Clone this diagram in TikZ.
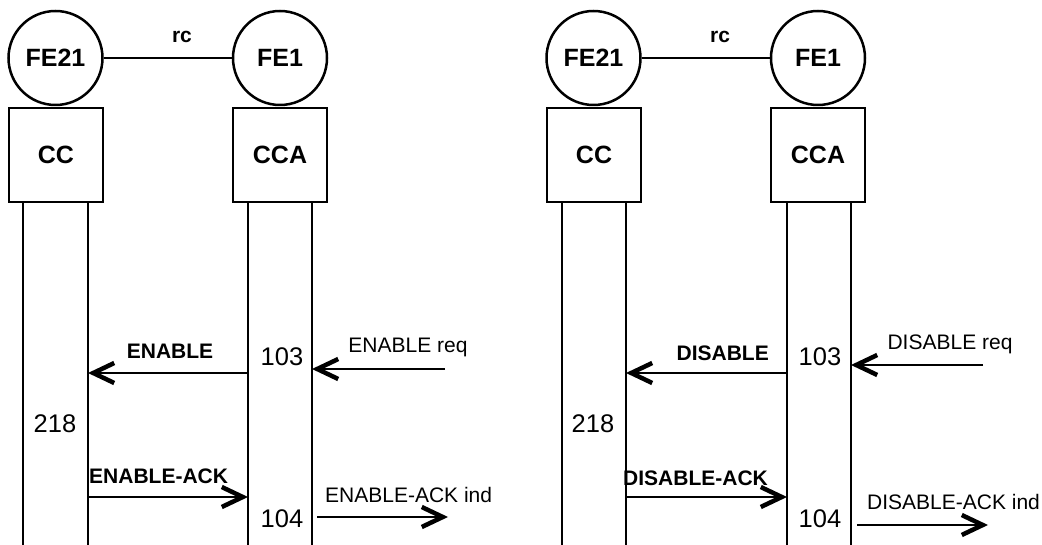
\documentclass[tikz,border=0pt]{standalone}
\usepackage{fontspec}
\setmainfont{Liberation Sans}
\usetikzlibrary{arrows.meta}
\begin{document}
\begin{tikzpicture}[x=1pt,y=-1pt,
  fe/.style={circle,draw,line width=2.5pt,minimum size=94pt,inner sep=0pt,font=\fontsize{25}{30}\selectfont\bfseries},
  blk/.style={rectangle,draw,line width=2.5pt,minimum width=94pt,minimum height=94pt,inner sep=0pt,font=\fontsize{25}{30}\selectfont\bfseries},
  life/.style={line width=2.5pt},
  link/.style={line width=2.5pt},
  msg/.style={line width=2.5pt,-{Straight Barb[length=21pt,width=20pt,line width=4.5pt]}},
  blbl/.style={font=\fontsize{21}{25}\selectfont\bfseries,inner sep=0pt},
  lbl/.style={font=\fontsize{21}{25}\selectfont,inner sep=0pt},
  num/.style={font=\fontsize{25.5}{30}\selectfont,inner sep=0pt}]
\useasboundingbox (0,0) rectangle (1042,545);

% ---------------- left panel ----------------
\node[fe] (aFE21) at (55.5,58) {FE21};
\node[fe] (aFE1) at (280,58) {FE1};
\draw[link] (aFE21) -- (aFE1);
\node[blbl,anchor=base] (arc) at (182,43) {rc};
\node[blk] (aCC) at (56,155) {CC};
\node[blk] (aCCA) at (280,155) {CCA};

\coordinate (aL1t) at (23,203); \coordinate (aL1b) at (23,545);
\coordinate (aL2t) at (88,203); \coordinate (aL2b) at (88,545);
\coordinate (aL3t) at (248,203); \coordinate (aL3b) at (248,545);
\coordinate (aL4t) at (312,203); \coordinate (aL4b) at (312,545);
\draw[life] (aL1t) -- (aL1b);
\draw[life] (aL2t) -- (aL2b);
\draw[life] (aL3t) -- (aL3b);
\draw[life] (aL4t) -- (aL4b);

\coordinate (aEs) at (248,373); \coordinate (aEe) at (88,373);
\draw[msg] (aEs) -- (aEe);
\node[blbl,anchor=base] (aElbl) at (170,359) {ENABLE};
\node[num,anchor=base] (a103) at (282,366) {103};
\coordinate (aRs) at (445,369); \coordinate (aRe) at (312,369);
\draw[msg] (aRs) -- (aRe);
\node[lbl,anchor=base] (aRlbl) at (408,353) {ENABLE req};
\node[num,anchor=base] (a218) at (55,432) {218};
\coordinate (aAs) at (88,497); \coordinate (aAe) at (248,497);
\draw[msg] (aAs) -- (aAe);
\node[blbl,anchor=base west] (aAlbl) at (89,483) {ENABLE-ACK};
\node[num,anchor=base] (a104) at (282,527) {104};
\coordinate (aIs) at (317,517); \coordinate (aIe) at (448,517);
\draw[msg] (aIs) -- (aIe);
\node[lbl,anchor=base west] (aIlbl) at (325,502) {ENABLE-ACK ind};

% ---------------- right panel ----------------
\node[fe] (bFE21) at (593.5,58) {FE21};
\node[fe] (bFE1) at (818,58) {FE1};
\draw[link] (bFE21) -- (bFE1);
\node[blbl,anchor=base] (brc) at (720,43) {rc};
\node[blk] (bCC) at (594,155) {CC};
\node[blk] (bCCA) at (818,155) {CCA};

\coordinate (bL1t) at (562,203); \coordinate (bL1b) at (562,545);
\coordinate (bL2t) at (626,203); \coordinate (bL2b) at (626,545);
\coordinate (bL3t) at (787,203); \coordinate (bL3b) at (787,545);
\coordinate (bL4t) at (851,203); \coordinate (bL4b) at (851,545);
\draw[life] (bL1t) -- (bL1b);
\draw[life] (bL2t) -- (bL2b);
\draw[life] (bL3t) -- (bL3b);
\draw[life] (bL4t) -- (bL4b);

\coordinate (bEs) at (787,373); \coordinate (bEe) at (626,373);
\draw[msg] (bEs) -- (bEe);
\node[blbl,anchor=base east] (bElbl) at (769,361) {DISABLE};
\node[num,anchor=base] (b103) at (820,366) {103};
\coordinate (bRs) at (983,365); \coordinate (bRe) at (851,365);
\draw[msg] (bRs) -- (bRe);
\node[lbl,anchor=base] (bRlbl) at (950,350) {DISABLE req};
\node[num,anchor=base] (b218) at (593,432) {218};
\coordinate (bAs) at (626,497); \coordinate (bAe) at (787,497);
\draw[msg] (bAs) -- (bAe);
\node[blbl,anchor=base west] (bAlbl) at (623,485) {DISABLE-ACK};
\node[num,anchor=base] (b104) at (820,527) {104};
\coordinate (bIs) at (857,525); \coordinate (bIe) at (988,525);
\draw[msg] (bIs) -- (bIe);
\node[lbl,anchor=base west] (bIlbl) at (867,509) {DISABLE-ACK ind};
\end{tikzpicture}
\end{document}
